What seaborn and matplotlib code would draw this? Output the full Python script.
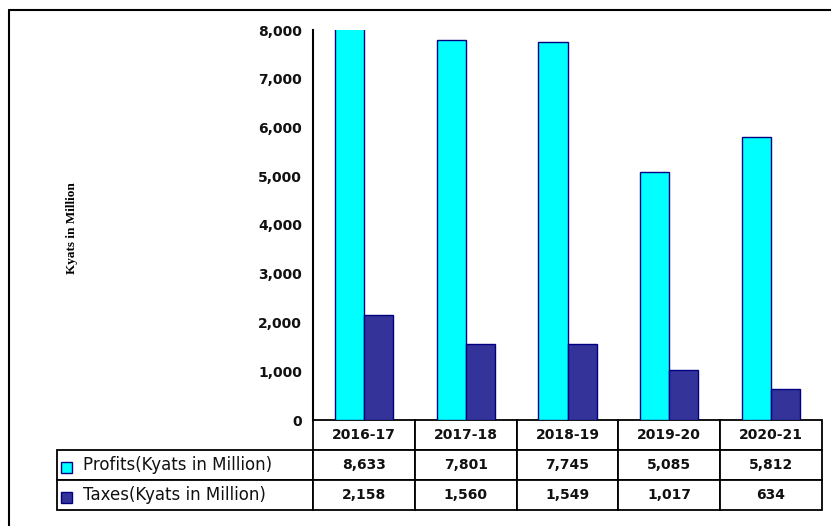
import numpy as np
import pandas as pd
import seaborn as sns
import matplotlib.pyplot as plt
from matplotlib.patches import Rectangle
from matplotlib.lines import Line2D

years = ['2016-17', '2017-18', '2018-19', '2019-20', '2020-21']
profits = [8633, 7801, 7745, 5085, 5812]
taxes = [2158, 1560, 1549, 1017, 634]
series_names = ['Profits(Kyats in Million)', 'Taxes(Kyats in Million)']
bar_colors = ['#00FFFF', '#333399']

df = pd.DataFrame({
    'year': years * 2,
    'value': profits + taxes,
    'series': [series_names[0]] * len(years) + [series_names[1]] * len(years),
})

sns.set_style('white')
plt.rcParams['font.family'] = ['DejaVu Sans']
plt.rcParams['text.color'] = 'black'
plt.rcParams['ytick.color'] = 'black'
plt.rcParams['ytick.labelcolor'] = 'black'

W, H = 831, 526
fig = plt.figure(figsize=(W / 100, H / 100), dpi=100)
# axes area in pixels: x 313..822, y 30..420
ax = fig.add_axes([313 / W, 1 - 420 / H, (822 - 313) / W, (420 - 30) / H])

sns.barplot(data=df, x='year', y='value', hue='series', palette=bar_colors,
            width=0.57, gap=0, edgecolor='#000080', linewidth=1,
            saturation=1, legend=False, ax=ax)

ax.set_ylim(0, 8000)
ax.set_xlim(-0.5, len(years) - 0.5)
ax.set_yticks(np.arange(0, 8001, 1000))
ax.yaxis.set_major_formatter(plt.FuncFormatter(lambda v, p: f'{int(v):,}'))
for lbl in ax.get_yticklabels():
    lbl.set_fontweight('bold')
    lbl.set_fontsize(10)
    lbl.set_color('#111111')
ax.tick_params(axis='y', direction='out', length=5, width=1.2, color='black', pad=3)
ax.set_xticks([])
ax.set_xlabel('')
ax.set_ylabel('')
for side in ['top', 'right', 'bottom']:
    ax.spines[side].set_visible(False)
ax.spines['left'].set_color('black')
ax.spines['left'].set_linewidth(1.5)

# data table under the plot
cell_text = [[series_names[0]] + [f'{v:,}' for v in profits],
             [series_names[1]] + [f'{v:,}' for v in taxes]]
label_w = 313 - 57
col_w = (822 - 313) / len(years)
tbl = ax.table(cellText=cell_text, colLabels=[''] + years,
               colWidths=[label_w] + [col_w] * len(years),
               cellLoc='center',
               bbox=[(57 - 313) / 509, (420 - 510) / 390, (822 - 57) / 509, 90 / 390])
tbl.auto_set_font_size(False)
for (r, c), cell in tbl.get_celld().items():
    cell.set_edgecolor('black')
    cell.set_linewidth(1.3)
    txt = cell.get_text()
    txt.set_color('#111111')
    if r == 0 and c == 0:
        cell.visible_edges = ''
        continue
    if c == 0:
        txt.set_ha('left')
        txt.set_fontsize(12)
    else:
        txt.set_fontweight('bold')
        txt.set_fontsize(10)

# legend keys inside the table label cells
for i, col in enumerate(bar_colors):
    y_top = 462 + i * 30
    ax.add_patch(Rectangle(((61 - 313) / 509, (420 - (y_top + 11)) / 390),
                           11 / 509, 11 / 390, transform=ax.transAxes,
                           facecolor=col, edgecolor='#000080', lw=1, clip_on=False))

fig.text(72 / W, 1 - 228 / H, 'Kyats in Million', rotation=90, ha='center',
         va='center', fontsize=9.5, fontweight='bold', family='Liberation Serif')

# chart frame (cropped on right and bottom)
fig.add_artist(Line2D([9 / W, 9 / W], [0, 1 - 10 / H], color='black', lw=1.5))
fig.add_artist(Line2D([9 / W, 1], [1 - 10 / H, 1 - 10 / H], color='black', lw=1.5))

fig.savefig('out.png', dpi=100)
